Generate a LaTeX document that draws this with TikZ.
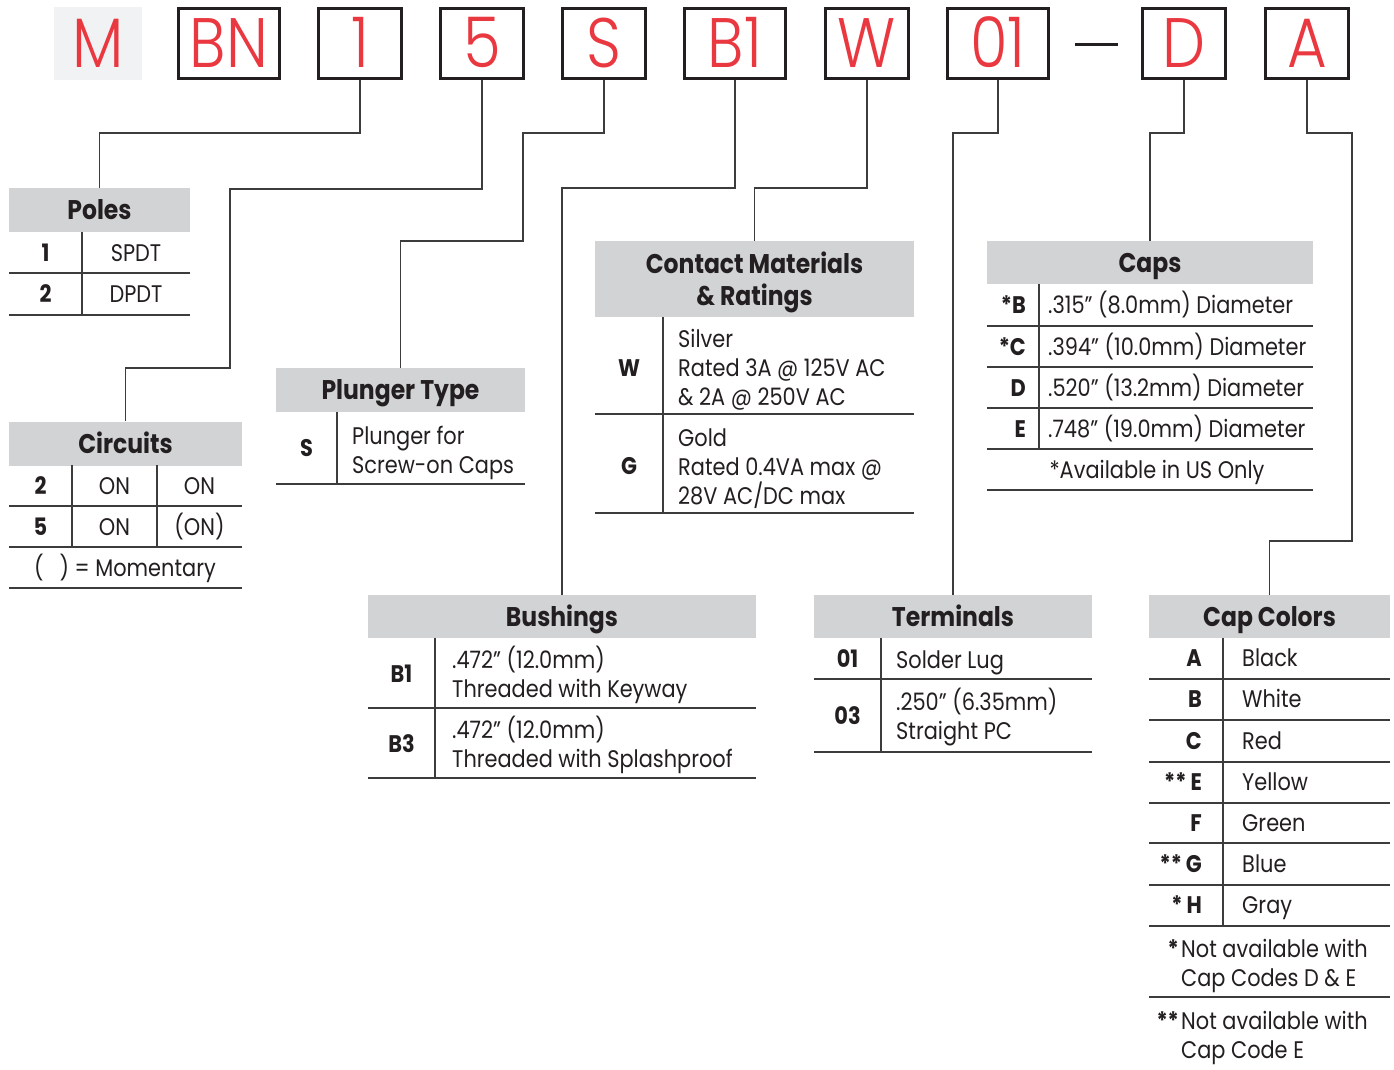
\documentclass[tikz,border=0pt]{standalone}
\usepackage{fontspec}
\setmainfont[FakeStretch=0.87]{Poppins}
\IfFontExistsTF{Poppins Light}{\newfontfamily\keyfam[FakeStretch=0.87]{Poppins Light}}{\newfontfamily\keyfam[FakeStretch=0.87]{Poppins}}
\definecolor{keyred}{RGB}{234,56,64}
\definecolor{hdrgray}{RGB}{209,211,212}
\definecolor{mgray}{RGB}{241,242,244}
\definecolor{ink}{RGB}{35,31,32}
\definecolor{rulecol}{RGB}{60,60,60}
\tikzset{
  keybox/.style={draw=ink, line width=3pt, minimum height=70pt, inner sep=0pt, text=keyred,
    font=\keyfam\fontsize{70}{70}\selectfont, text height=49pt, text depth=0pt},
  mbox/.style={fill=mgray, minimum height=73pt, minimum width=88pt, inner sep=0pt, text=keyred,
    font=\keyfam\fontsize{70}{70}\selectfont, text height=49pt, text depth=0pt},
  hdr/.style={fill=hdrgray, inner sep=0pt, minimum height=44pt, text=ink,
    font=\fontsize{27}{32}\selectfont\bfseries, text height=19pt, text depth=0pt},
  body/.style={inner sep=0pt, text=ink, font=\fontsize{24}{29}\selectfont},
  code/.style={inner sep=0pt, text=ink, font=\fontsize{24}{29}\selectfont\bfseries},
  tline/.style={draw=rulecol, line width=1.6pt},
  conn/.style={draw=rulecol, line width=1.6pt},
}
\begin{document}
\begin{tikzpicture}[x=1pt,y=-1pt]
\useasboundingbox[fill=white] (0,0) rectangle (1394,1070);

% ---------- key boxes ----------
\node[mbox] (kM) at (98,43.5) {M};
\node[keybox, minimum width=101pt] (kBN) at (229,43.5) {BN};
\node[keybox, minimum width=83pt] (k1) at (360,43.5) {1};
\node[keybox, minimum width=83pt] (k5) at (482,43.5) {5};
\node[keybox, minimum width=83pt] (kS) at (604,43.5) {S};
\node[keybox, minimum width=101pt] (kB1) at (735,43.5) {B1};
\node[keybox, minimum width=83pt] (kW) at (867,43.5) {W};
\node[keybox, minimum width=101pt] (k01) at (998,43.5) {01};
\node[keybox, minimum width=83pt] (kD) at (1184,43.5) {D};
\node[keybox, minimum width=83pt] (kA) at (1307,43.5) {A};
\draw[draw=ink, line width=3pt] (1075,45) -- (1118,45);

% ---------- headers ----------
\node[hdr, minimum width=181pt] (hPoles) at (99.5,210) {Poles};
\node[hdr, minimum width=233pt] (hCirc) at (125.5,443.5) {Circuits};
\node[hdr, minimum width=249pt] (hPlung) at (400.5,390) {Plunger Type};
\node[hdr, minimum width=319pt, minimum height=76pt] (hCont) at (754.5,279) {};
\node[hdr, minimum width=326pt, minimum height=43pt] (hCaps) at (1150,262.5) {Caps};
\node[hdr, minimum width=388pt, minimum height=43pt] (hBush) at (562,616.5) {Bushings};
\node[hdr, minimum width=278pt, minimum height=43pt] (hTerm) at (953,616.5) {Terminals};
\node[hdr, minimum width=241pt, minimum height=43pt] (hCol) at (1269.5,616.5) {Cap Colors};
\node[hdr, fill=none, minimum height=0pt, anchor=base] (hCont1) at (754.5,273.5) {Contact Materials};
\node[hdr, fill=none, minimum height=0pt, anchor=base] (hCont2) at (754.5,305.5) {\& Ratings};

% ---------- connectors ----------
\coordinate (c1) at (99.5,133);
\coordinate (c5a) at (230,189);
\coordinate (c5b) at (125.5,368);
\coordinate (cSa) at (523,133);
\coordinate (cSb) at (400.5,241);
\coordinate (cB) at (562,188);
\coordinate (cW) at (754.5,188);
\coordinate (c01) at (953,133);
\coordinate (cD) at (1150,133);
\coordinate (cAa) at (1352,133);
\coordinate (cAb) at (1269.5,541);
\draw[conn] (k1.south) |- (c1) -- (hPoles.north);
\draw[conn] (k5.south) |- (c5a) |- (c5b) -- (hCirc.north);
\draw[conn] (kS.south) |- (cSa) |- (cSb) -- (hPlung.north);
\draw[conn] (kB1.south) |- (cB) -- (hBush.north);
\draw[conn] (kW.south) |- (cW) -- (hCont.north);
\draw[conn] (k01.south) |- (c01) -- (hTerm.north);
\draw[conn] (kD.south) |- (cD) -- (hCaps.north);
\draw[conn] (kA.south) |- (cAa) |- (cAb) -- (hCol.north);

% ---------- Poles ----------
\draw[tline] (9,273) -- (190,273) (9,315) -- (190,315) (82,232) -- (82,315);
\node[code, anchor=base] (p1c) at (45.5,261) {1};
\node[body, anchor=base] (p1t) at (136,261) {SPDT};
\node[code, anchor=base] (p2c) at (45.5,302) {2};
\node[body, anchor=base] (p2t) at (136,302) {DPDT};

% ---------- Circuits ----------
\draw[tline] (9,506) -- (242,506) (9,547) -- (242,547) (9,588) -- (242,588)
  (72,465) -- (72,547) (157,465) -- (157,547);
\node[code, anchor=base] (ci1c) at (40.5,494) {2};
\node[body, anchor=base] (ci1a) at (114.5,494) {ON};
\node[body, anchor=base] (ci1b) at (199.5,494) {ON};
\node[code, anchor=base] (ci2c) at (40.5,535) {5};
\node[body, anchor=base] (ci2a) at (114.5,535) {ON};
\node[body, anchor=base] (ci2b) at (199.5,535) {(ON)};
\node[body, anchor=base] (ci3) at (125,576) {(\hspace{16pt}) = Momentary};

% ---------- Plunger Type ----------
\draw[tline] (276,484) -- (525,484) (337,412) -- (337,484);
\node[code, anchor=base] (plc) at (306.5,456) {S};
\node[body, anchor=base west] (pl1) at (352,444) {Plunger for};
\node[body, anchor=base west] (pl2) at (352,473) {Screw-on Caps};

% ---------- Contact Materials ----------
\draw[tline] (595,414) -- (914,414) (595,513) -- (914,513) (663,317) -- (663,513);
\node[code, anchor=base] (cmW) at (629,376) {W};
\node[body, anchor=base west] (cmW1) at (678,347) {Silver};
\node[body, anchor=base west] (cmW2) at (678,376) {Rated 3A @ 125V AC};
\node[body, anchor=base west] (cmW3) at (678,405) {\& 2A @ 250V AC};
\node[code, anchor=base] (cmG) at (629,474) {G};
\node[body, anchor=base west] (cmG1) at (678,446) {Gold};
\node[body, anchor=base west] (cmG2) at (678,475) {Rated 0.4VA max @};
\node[body, anchor=base west] (cmG3) at (678,504) {28V AC/DC max};

% ---------- Caps ----------
\draw[tline] (987,326) -- (1313,326) (987,367) -- (1313,367) (987,408) -- (1313,408)
  (987,449) -- (1313,449) (987,490) -- (1313,490) (1039,284) -- (1039,449);
\node[code, anchor=base east] (cpB) at (1026,313.5) {*B};
\node[body, anchor=base west] (cpBt) at (1048,313.5) {.315” (8.0mm) Diameter};
\node[code, anchor=base east] (cpC) at (1026,355) {*C};
\node[body, anchor=base west] (cpCt) at (1048,355) {.394” (10.0mm) Diameter};
\node[code, anchor=base east] (cpD) at (1026,396) {D};
\node[body, anchor=base west] (cpDt) at (1048,396) {.520” (13.2mm) Diameter};
\node[code, anchor=base east] (cpE) at (1026,437) {E};
\node[body, anchor=base west] (cpEt) at (1048,437) {.748” (19.0mm) Diameter};
\node[body, anchor=base] (cpN) at (1157,478) {*Available in US Only};

% ---------- Bushings ----------
\draw[tline] (368,708) -- (756,708) (368,778) -- (756,778) (435,638) -- (435,778);
\node[code, anchor=base] (bu1) at (401.5,682) {B1};
\node[body, anchor=base west] (bu1a) at (452,668) {.472” (12.0mm)};
\node[body, anchor=base west] (bu1b) at (452,697) {Threaded with Keyway};
\node[code, anchor=base] (bu3) at (401.5,752) {B3};
\node[body, anchor=base west] (bu3a) at (452,738) {.472” (12.0mm)};
\node[body, anchor=base west] (bu3b) at (452,767) {Threaded with Splashproof};

% ---------- Terminals ----------
\draw[tline] (814,679) -- (1092,679) (814,752) -- (1092,752) (881,638) -- (881,752);
\node[code, anchor=base] (te1) at (847.5,667) {01};
\node[body, anchor=base west] (te1a) at (896,668) {Solder Lug};
\node[code, anchor=base] (te3) at (847.5,724) {03};
\node[body, anchor=base west] (te3a) at (896,710) {.250” (6.35mm)};
\node[body, anchor=base west] (te3b) at (896,739) {Straight PC};

% ---------- Cap Colors ----------
\draw[tline] (1149,679) -- (1390,679) (1149,720) -- (1390,720) (1149,762) -- (1390,762)
  (1149,803) -- (1390,803) (1149,843) -- (1390,843) (1149,885) -- (1390,885)
  (1149,926) -- (1390,926) (1149,997) -- (1390,997) (1223,638) -- (1223,926);
\node[code, anchor=base east] (ccA) at (1202,666.5) {A};
\node[body, anchor=base west] (ccAt) at (1242,666.5) {Black};
\node[code, anchor=base east] (ccB) at (1202,707.5) {B};
\node[body, anchor=base west] (ccBt) at (1242,707.5) {White};
\node[code, anchor=base east] (ccC) at (1202,749) {C};
\node[body, anchor=base west] (ccCt) at (1242,749) {Red};
\node[code, anchor=base east] (ccE) at (1202,790.5) {**\,E};
\node[body, anchor=base west] (ccEt) at (1242,790.5) {Yellow};
\node[code, anchor=base east] (ccF) at (1202,831) {F};
\node[body, anchor=base west] (ccFt) at (1242,831) {Green};
\node[code, anchor=base east] (ccG) at (1202,872) {**\,G};
\node[body, anchor=base west] (ccGt) at (1242,872) {Blue};
\node[code, anchor=base east] (ccH) at (1202,913.5) {*\,H};
\node[body, anchor=base west] (ccHt) at (1242,913.5) {Gray};
\node[code, anchor=base east] (fn1s) at (1179,957) {*};
\node[body, anchor=base west] (fn1a) at (1181,957) {Not available with};
\node[body, anchor=base west] (fn1b) at (1181,986) {Cap Codes D \& E};
\node[code, anchor=base east] (fn2s) at (1179,1029) {**};
\node[body, anchor=base west] (fn2a) at (1181,1029) {Not available with};
\node[body, anchor=base west] (fn2b) at (1181,1058) {Cap Code E};
\end{tikzpicture}
\end{document}
